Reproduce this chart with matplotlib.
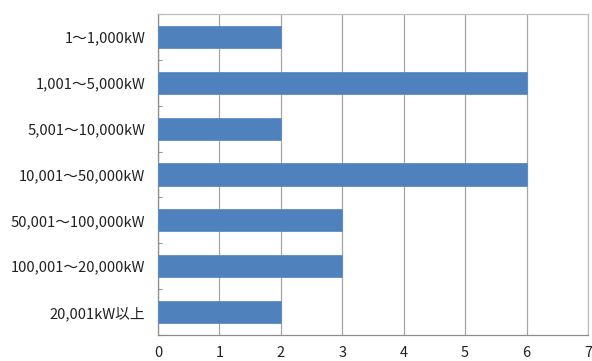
import matplotlib.pyplot as plt
import numpy as np

plt.rcParams['font.family'] = ['Noto Sans CJK JP', 'DejaVu Sans']

# categories, top to bottom
categories = [
    "1〜1,000kW",
    "1,001〜5,000kW",
    "5,001〜10,000kW",
    "10,001〜50,000kW",
    "50,001〜100,000kW",
    "100,001〜20,000kW",
    "20,001kW以上",
]
counts = [2, 6, 2, 6, 3, 3, 2]
x_ticks = [0, 1, 2, 3, 4, 5, 6, 7]


def main():
    fig = plt.figure(figsize=(5.92, 3.61), dpi=100)
    ax = fig.add_axes([158 / 592, 26 / 361, 430 / 592, 321 / 361])

    y = np.arange(len(categories))
    ax.barh(y, counts, height=0.48, color='#4F81BD', edgecolor='#5B8CC8',
            linewidth=0.6, zorder=3)

    ax.set_xlim(0, 7)
    ax.set_ylim(len(categories) - 0.5, -0.5)
    ax.set_xticks(x_ticks)
    ax.set_xticklabels([str(t) for t in x_ticks], fontsize=10.5, color='#222222')
    ax.tick_params(axis='x', length=0, pad=8)

    ax.set_yticks(y)
    ax.set_yticklabels(categories, fontsize=10.6, color='#222222')
    ax.tick_params(axis='y', which='major', length=0, pad=9)
    # small marks at category boundaries
    ax.set_yticks(np.arange(len(categories) + 1) - 0.5, minor=True)
    ax.tick_params(axis='y', which='minor', direction='in', length=3,
                   color='#999999', width=0.8)

    ax.grid(axis='x', color='#A6A6A6', linewidth=0.9, zorder=0)
    for side in ['left', 'bottom']:
        ax.spines[side].set_color('#8C8C8C')
        ax.spines[side].set_linewidth(0.9)
    for side in ['top', 'right']:
        ax.spines[side].set_color('#BFBFBF')
        ax.spines[side].set_linewidth(0.9)

    fig.savefig("out.png", dpi=100)
    plt.close(fig)


if __name__ == '__main__':
    main()
